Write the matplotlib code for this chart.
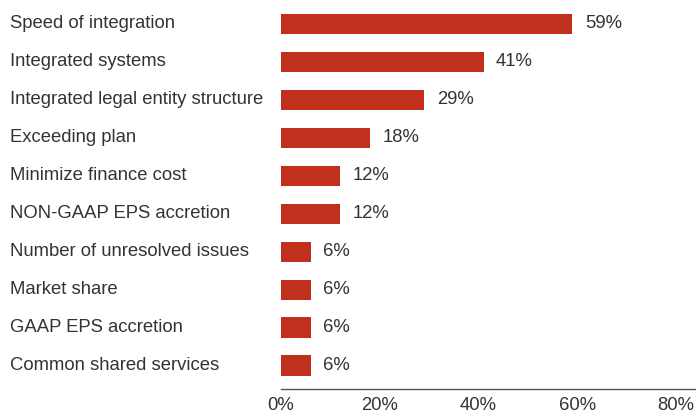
import matplotlib
matplotlib.use("Agg")
import matplotlib.pyplot as plt
from matplotlib import transforms

categories = [
    "Speed of integration",
    "Integrated systems",
    "Integrated legal entity structure",
    "Exceeding plan",
    "Minimize finance cost",
    "NON-GAAP EPS accretion",
    "Number of unresolved issues",
    "Market share",
    "GAAP EPS accretion",
    "Common shared services",
]
values = [59, 41, 29, 18, 12, 12, 6, 6, 6, 6]
xticks = [0, 20, 40, 60, 80]

plt.rcParams['font.family'] = ['Liberation Sans', 'DejaVu Sans']
text_color = '#333333'
bar_color = '#c0301c'
fs = 13.3

fig = plt.figure(figsize=(6.96, 4.13), dpi=100)
ax = fig.add_axes([281/696, 24/413, 1 - 281/696, 389/413])

pos = list(range(len(categories)))
ax.barh(pos, values, height=0.53, color=bar_color)
ax.set_ylim(len(categories) - 0.38, -0.63)
ax.set_xlim(0, 84.0)

# value labels right of the bars
for p, v in zip(pos, values):
    ax.text(v + 2.5, p, f"{v}%", va='center', ha='left', fontsize=fs, color=text_color)

# category labels, left aligned at the figure edge
lab_tr = transforms.blended_transform_factory(fig.transFigure, ax.transData)
for p, c in zip(pos, categories):
    ax.text(10/696, p, c, transform=lab_tr, va='center', ha='left',
            fontsize=fs, color=text_color)

ax.set_yticks([])
ax.set_xticks(xticks)
ax.set_xticklabels([f"{t}%" for t in xticks], fontsize=fs, color=text_color)
ax.tick_params(axis='x', length=0, pad=6)
for s in ['top', 'right', 'left']:
    ax.spines[s].set_visible(False)
ax.spines['bottom'].set_color('#555555')
ax.spines['bottom'].set_linewidth(1)

fig.savefig("out.png", dpi=100)
